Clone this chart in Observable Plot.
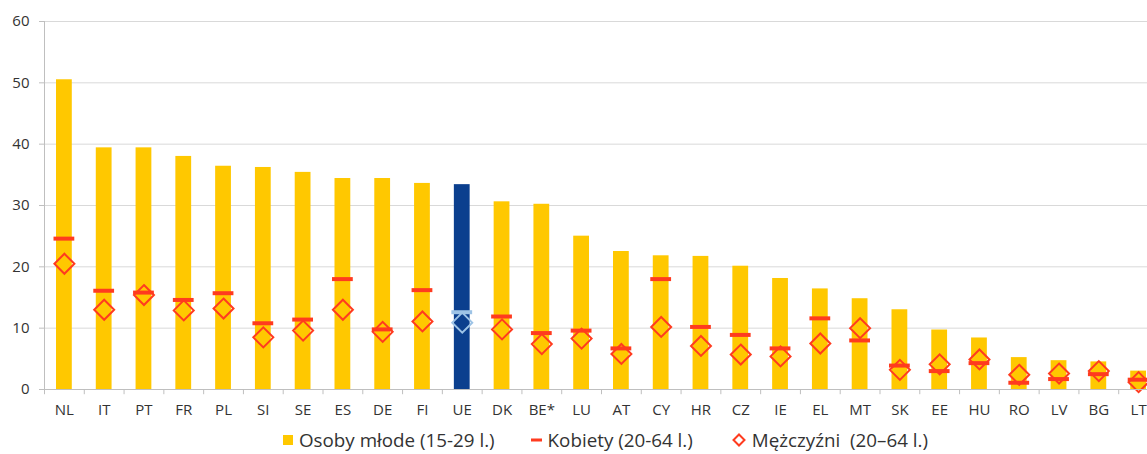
<!DOCTYPE html>
<html>
<head>
<meta charset="utf-8">
<script src="https://cdn.jsdelivr.net/npm/d3@7"></script>
<script src="https://cdn.jsdelivr.net/npm/@observablehq/plot@0.6"></script>
<style>
  html, body { margin: 0; padding: 0; background: #fff; overflow: hidden; width: 1147px; }
  #chart { width: 1147px; overflow: hidden; }
  #chart svg { display: block; max-width: none; }
  .legend { display: flex; justify-content: flex-start; align-items: center; line-height: 24px; margin-top: 3px;
            font-family: "Open Sans", sans-serif; font-size: 18.8px; color: #333; padding-left: 283px; white-space: pre; }
  .legend .item { display: flex; align-items: center; }
  .legend .a { margin-right: 36px; }
  .legend .b { margin-right: 39px; }
  .legend svg { margin-right: 6px; }
</style>
</head>
<body>
<div id="chart"></div>
<div class="legend">
  <div class="item a"><svg width="10" height="12"><rect x="0" y="1" width="10" height="10" fill="#ffc800"/></svg>Osoby młode (15-29 l.)</div>
  <div class="item b"><svg width="11" height="12"><rect x="0" y="4.5" width="11" height="3" fill="#ff3b1f"/></svg>Kobiety (20-64 l.)</div>
  <div class="item"><svg width="14" height="14"><path d="M7,1.5 L12.5,7 L7,12.5 L1.5,7 Z" fill="none" stroke="#ff3b1f" stroke-width="2"/></svg>Mężczyźni  (20–64 l.)</div>
</div>
<script>
const countries = ["NL","IT","PT","FR","PL","SI","SE","ES","DE","FI","UE","DK","BE*","LU","AT","CY","HR","CZ","IE","EL","MT","SK","EE","HU","RO","LV","BG","LT"];
const mlodzi    = [50.5,39.4,39.4,38.0,36.4,36.2,35.4,34.4,34.4,33.6,33.4,30.6,30.2,25.0,22.5,21.8,21.7,20.1,18.1,16.4,14.8,13.0,9.7,8.4,5.2,4.7,4.5,3.0];
const kobiety   = [24.6,16.1,15.8,14.6,15.7,10.8,11.4,18.0,9.8,16.2,12.6,11.9,9.2,9.6,6.7,18.0,10.2,8.9,6.7,11.6,8.0,3.9,3.0,4.3,1.1,1.7,2.5,1.6];
const mezczyzni = [20.5,13.0,15.4,12.9,13.2,8.5,9.6,13.0,9.4,11.1,10.9,9.8,7.4,8.3,5.8,10.2,7.1,5.7,5.4,7.5,10.0,3.2,4.1,4.9,2.4,2.6,3.0,1.2];
const yTicks = [0,10,20,30,40,50,60];

const data = countries.map((c, i) => ({country: c, mlodzi: mlodzi[i], kobiety: kobiety[i], mezczyzni: mezczyzni[i]}));

const W = 1158, ML = 44;
const step = (W - ML) / countries.length;
const isEU = d => d.country === "UE";

const chart = Plot.plot({
  width: W,
  height: 425,
  marginTop: 21,
  marginBottom: 36,
  marginLeft: ML,
  marginRight: 0,
  style: {fontFamily: "'Open Sans', sans-serif", fontSize: "15px", color: "#333", background: "#fff", maxWidth: "none"},
  x: {domain: countries, padding: 0, round: false, label: null},
  y: {domain: [0, 60], label: null},
  marks: [
    Plot.ruleY(yTicks.filter(v => v > 0), {stroke: "#d9d9d9", strokeWidth: 1}),
    Plot.barY(data, {x: "country", y: "mlodzi", fill: d => isEU(d) ? "#0b3f8e" : "#ffc800", insetLeft: 12, insetRight: 12}),
    Plot.tickY(data, {x: "country", y: "kobiety", stroke: d => isEU(d) ? "#9dc3e6" : "#ff3b1f", strokeWidth: 4, insetLeft: 9.5, insetRight: 9.5}),
    Plot.dot(data, {x: "country", y: "mezczyzni", symbol: "diamond2", r: 9, fill: "none", stroke: d => isEU(d) ? "#9dc3e6" : "#ff3b1f", strokeWidth: 2}),
    Plot.ruleY([0], {stroke: "#bfbfbf", strokeWidth: 1}),
    Plot.ruleX([countries[0]], {dx: -step / 2, y1: 0, y2: 60, stroke: "#bfbfbf", strokeWidth: 1}),
    Plot.ruleX(countries, {x: d => d, dx: -step / 2, y1: 0, y2: -0.85, stroke: "#bfbfbf", strokeWidth: 1}),
    Plot.axisY({ticks: yTicks, tickSize: 5, tickPadding: 10, stroke: "#bfbfbf", fill: "#333", label: null}),
    Plot.axisX({tickSize: 0, tickPadding: 15, fill: "#333", label: null})
  ]
});
document.getElementById("chart").appendChild(chart);
</script>
</body>
</html>
